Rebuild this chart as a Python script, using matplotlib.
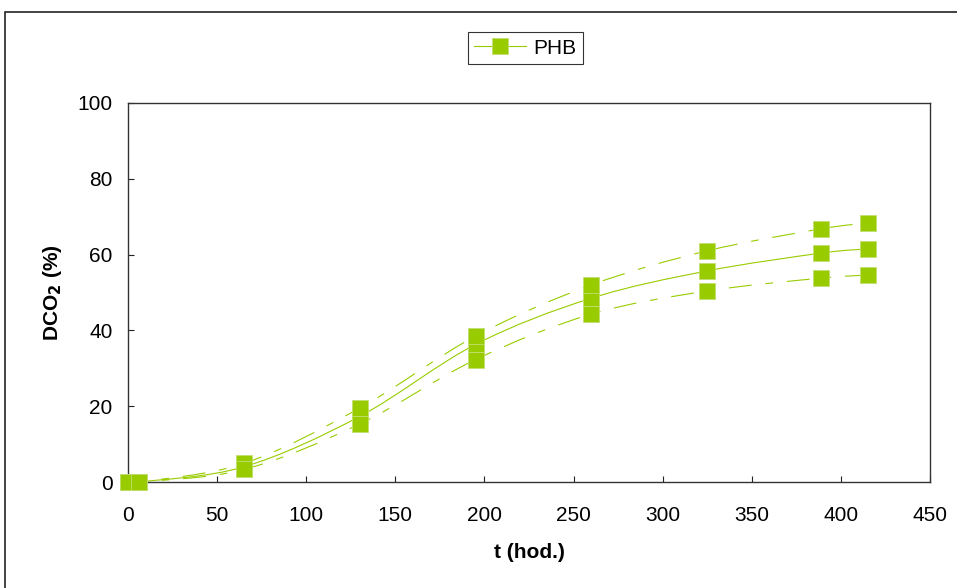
import numpy as np
import matplotlib
matplotlib.use("Agg")
import matplotlib.pyplot as plt
from matplotlib.path import Path
from matplotlib.patches import PathPatch, Rectangle
from matplotlib.lines import Line2D

plt.rcParams['font.family'] = ['Liberation Sans', 'DejaVu Sans']
plt.rcParams['lines.scale_dashes'] = False

# time (hours) and CO2 degree (%) - mean and upper/lower bounds
t = [0, 6, 65, 130, 195, 260, 325, 389, 415]
dco2_mean = [0, 0, 4.0, 17.3, 36.3, 48.5, 55.7, 60.4, 61.5]
dco2_upper = [0, 0, 4.9, 19.5, 38.5, 52.0, 61.0, 66.8, 68.3]
dco2_lower = [0, 0, 3.3, 15.3, 32.3, 44.3, 50.4, 53.8, 54.6]

x_ticks = [0, 50, 100, 150, 200, 250, 300, 350, 400, 450]
y_ticks = [0, 20, 40, 60, 80, 100]

green = '#99CC00'
edge = '#C2DF73'
fs = 15


def smooth_path(x, y, tension=1 / 6):
    # Bezier path through the points (spreadsheet-style smoothed line)
    pts = np.column_stack([x, y]).astype(float)
    n = len(pts)
    verts = [pts[0]]
    codes = [Path.MOVETO]
    for i in range(n - 1):
        p0 = pts[i - 1] if i > 0 else pts[i]
        p1 = pts[i]
        p2 = pts[i + 1]
        p3 = pts[i + 2] if i + 2 < n else pts[i + 1]
        c1 = p1 + (p2 - p0) * tension
        c2 = p2 - (p3 - p1) * tension
        verts += [c1, c2, p2]
        codes += [Path.CURVE4] * 3
    return Path(verts, codes)


fig = plt.figure(figsize=(9.57, 5.88), dpi=100)
ax = fig.add_axes([128 / 957, 1 - 482 / 588, (930 - 128) / 957, (482 - 103) / 588])

dash = (0, (16.5, 10, 5.5, 10))
for series, ls in [(dco2_mean, '-'), (dco2_upper, dash), (dco2_lower, dash)]:
    ax.add_patch(PathPatch(smooth_path(t, series), fill=False, edgecolor=green,
                           linewidth=0.8, linestyle=ls, zorder=2))
    ax.plot(t, series, linestyle='none', marker='s', markersize=11.5,
            markerfacecolor=green, markeredgecolor=edge, markeredgewidth=0.6,
            zorder=3, clip_on=False)

ax.set_xlim(0, 450)
ax.set_ylim(0, 100)
ax.set_xticks(x_ticks)
ax.set_yticks(y_ticks)
ax.tick_params(direction='in', length=4.5, width=0.8, labelsize=fs,
               colors='#222222', labelcolor='black')
ax.tick_params(axis='x', pad=17)
ax.tick_params(axis='y', pad=11)
for s in ax.spines.values():
    s.set_linewidth(1.0)
    s.set_color('#333333')

ax.set_xlabel('t (hod.)', fontsize=fs, fontweight='bold', labelpad=13)
ax.set_ylabel('DCO$_\\mathbf{2}$ (%)', fontsize=fs, fontweight='bold', labelpad=10)

handle = Line2D([], [], color=green, linewidth=0.8, marker='s', markersize=11.5,
                markerfacecolor=green, markeredgecolor=edge, markeredgewidth=0.6)
leg = fig.legend([handle], ['PHB'], loc='center', bbox_to_anchor=(525 / 957, 1 - 48 / 588),
                 fontsize=fs, frameon=True, fancybox=False, edgecolor='black',
                 handlelength=2.5, borderpad=0.3, borderaxespad=0, handletextpad=0.35)
leg.get_frame().set_linewidth(0.8)

# outer chart frame
fig.add_artist(Rectangle((5 / 957, -0.1), 1.2, 1 - 12 / 588 + 0.1, transform=fig.transFigure,
                         fill=False, edgecolor='#222222', linewidth=1.2))

fig.savefig('out.png', dpi=100)
